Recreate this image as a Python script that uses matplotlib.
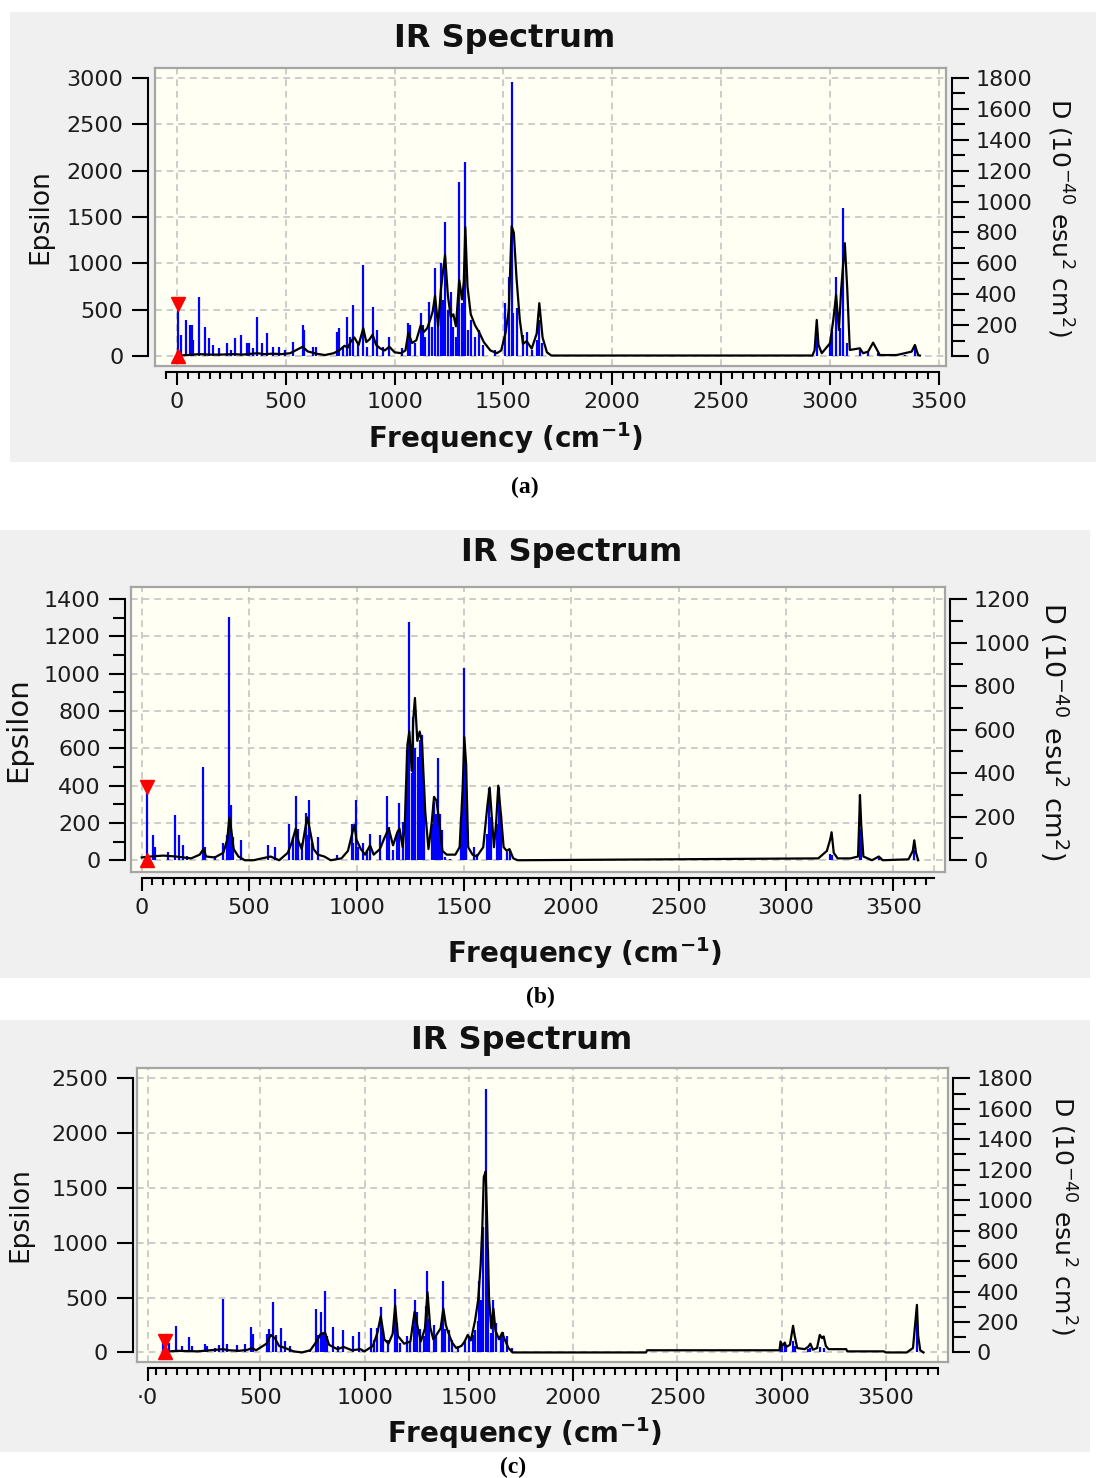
import numpy as np
import matplotlib
matplotlib.use('Agg')
import matplotlib.pyplot as plt
from matplotlib.patches import Rectangle

# Figure size in pixels (dpi 100)
W, H = 1096, 1478

# ---- Panel (a) data: stick spectrum (Epsilon units) + broadened curve ----
a_stick_freq = [6, 17, 40, 60, 69, 75, 102, 129, 149, 167, 193, 231, 247, 268, 294, 320, 329, 348,
                369, 392, 412, 442, 470, 496, 535, 578, 585, 627, 637, 734, 746, 764, 783, 795,
                810, 833, 856, 871, 899, 920, 948, 976, 1033, 1063, 1071, 1094, 1120, 1129, 1140,
                1160, 1170, 1186, 1201, 1213, 1222, 1232, 1244, 1259, 1270, 1282, 1290, 1297, 1308,
                1318, 1325, 1339, 1351, 1370, 1389, 1408, 1461, 1507, 1527, 1538, 1545, 1561,
                1591, 1607, 1630, 1653, 1665, 1676,
                2940, 3001, 3011, 3029, 3045, 3062, 3077, 3138, 3176, 3222, 3347, 3391]
a_stick_eps = [500, 227, 389, 335, 335, 173, 641, 317, 191, 119, 83, 137, 65, 191, 227, 137, 137, 83,
               425, 137, 245, 101, 101, 65, 155, 335, 281, 101, 101, 263, 299, 101, 425, 209,
               551, 155, 983, 101, 533, 281, 101, 209, 83, 353, 335, 137, 461, 335, 209,
               587, 317, 947, 389, 1001, 600, 1450, 497, 695, 317, 209, 450, 1882, 569,
               700, 2098, 281, 389, 209, 281, 119, 65, 569, 857, 2952, 461, 515,
               227, 263, 65, 173, 389, 137,
               208, 137, 281, 857, 300, 1595, 137, 65, 47, 29, 11, 119]
a_curve_freq = [0, 50, 100, 150, 200, 260, 300, 369, 400, 440, 480, 520, 545, 578, 600, 640, 680,
                720, 745, 770, 785, 800, 815, 835, 856, 870, 885, 899, 915, 935, 955, 976, 1000,
                1030, 1050, 1063, 1080, 1100, 1120, 1135, 1150, 1165, 1175, 1186, 1200, 1213,
                1222, 1232, 1245, 1258, 1270, 1282, 1297, 1310, 1318, 1325, 1335, 1350, 1370,
                1390, 1410, 1440, 1470, 1490, 1510, 1525, 1538, 1548, 1560, 1575, 1590, 1607,
                1630, 1653, 1665, 1680, 1700, 1720,
                2920, 2930, 2940, 2948, 2963, 3001, 3016, 3029, 3042, 3052, 3069, 3080, 3092,
                3138, 3153, 3176, 3199, 3230, 3307, 3376, 3391, 3406, 3414]
a_curve_eps = [5, 10, 20, 15, 15, 20, 15, 30, 20, 25, 20, 30, 60, 100, 50, 25, 10,
               30, 60, 110, 90, 160, 200, 120, 300, 150, 180, 230, 120, 80, 60, 100, 40,
               30, 60, 250, 140, 170, 330, 260, 300, 400, 480, 650, 320, 720,
               900, 1090, 650, 420, 450, 320, 820, 610, 800, 1390, 750, 450, 330,
               250, 150, 60, 30, 60, 250, 500, 1400, 1330, 850, 400, 130, 160,
               80, 240, 570, 200, 40, 5,
               5, 60, 389, 120, 30, 137, 389, 660, 280, 710, 1217, 730, 65,
               83, 30, 47, 144, 10, 10, 47, 119, 10, 5]
a_marker = (6, 565)

# ---- Panel (b) data ----
b_stick_freq = [26, 54, 64, 120, 157, 175, 194, 212, 287, 295, 341, 380, 398, 408, 416, 427, 462,
                586, 621, 687, 706, 717, 729, 745, 763, 773, 780, 791, 819, 908, 977, 985, 996,
                1009, 1032, 1047, 1063, 1109, 1140, 1153, 1171, 1187, 1200, 1218, 1231, 1237,
                1246, 1257, 1264, 1272, 1285, 1296, 1304, 1315, 1350, 1361, 1370, 1378, 1389,
                1398, 1412, 1435, 1486, 1494, 1500, 1508, 1512, 1546, 1562, 1606, 1615, 1624,
                1652, 1662, 1671, 1699, 1714,
                3205, 3212, 3344, 3348, 3432, 3597]
b_stick_eps = [358, 134, 72, 45, 245, 134, 80, 21, 501, 72, 21, 90, 134, 1303, 295, 125, 107,
               80, 72, 197, 125, 343, 170, 90, 254, 134, 325, 90, 122, 27, 197, 90, 325,
               72, 90, 54, 143, 134, 343, 179, 54, 143, 307, 206, 394, 591,
               1275, 466, 770, 600, 555, 645, 671, 394, 197, 313, 250, 549, 250,
               161, 18, 9, 233, 385, 1029, 519, 224, 72, 36, 143, 385, 233,
               197, 394, 250, 45, 54,
               35, 30, 170, 120, 20, 54]
b_curve_freq = [0, 40, 100, 160, 230, 270, 287, 300, 340, 380, 398, 408, 416, 428, 450, 480, 520,
                560, 600, 640, 680, 700, 717, 730, 745, 770, 780, 800, 820, 850, 880, 930, 960,
                977, 990, 1000, 1020, 1040, 1063, 1080, 1109, 1130, 1150, 1170, 1190, 1200, 1215,
                1225, 1237, 1246, 1257, 1264, 1272, 1283, 1294, 1305, 1320, 1335, 1350, 1361,
                1372, 1385, 1400, 1420, 1460, 1480, 1494, 1502, 1510, 1520, 1540, 1560, 1590,
                1610, 1620, 1630, 1640, 1650, 1660, 1672, 1685, 1700, 1712, 1730, 1750,
                3150, 3190, 3205, 3212, 3222, 3240, 3300, 3335, 3340, 3344, 3350, 3360, 3400,
                3432, 3450, 3570, 3590, 3597, 3605, 3615]
b_curve_eps = [15, 20, 25, 20, 10, 30, 60, 20, 15, 40, 110, 230, 170, 60, 20, 0, 0,
               10, 20, 0, 40, 100, 170, 100, 60, 230, 180, 60, 30, 20, 0, 10, 50,
               130, 190, 110, 60, 30, 80, 30, 60, 120, 170, 80, 150, 170, 70,
               200, 620, 690, 480, 750, 870, 640, 690, 630, 260, 60, 200, 340,
               320, 210, 50, 30, 30, 70, 380, 660, 520, 70, 30, 20, 70,
               300, 390, 230, 70, 200, 400, 250, 70, 50, 60, 10, 0,
               10, 50, 110, 150, 40, 10, 10, 20, 190, 350, 190, 20, 0,
               20, 0, 5, 50, 107, 40, 0]
b_marker = (26, 394)

# ---- Panel (c) data ----
c_stick_freq = [35, 61, 96, 124, 156, 172, 212, 236, 247, 284, 300, 321, 340, 388, 428, 455, 465,
                532, 540, 560, 576, 599, 620, 643, 739, 768, 779, 790, 800, 811, 819, 848, 875,
                896, 944, 972, 995, 1030, 1046, 1062, 1078, 1091, 1115, 1147, 1155, 1171, 1206,
                1219, 1235, 1243, 1251, 1267, 1286, 1294, 1302, 1311, 1334, 1343, 1370, 1378,
                1388, 1407, 1418, 1450, 1482, 1503, 1519, 1530, 1543, 1551, 1557, 1570, 1581,
                1591, 1605, 1618, 1630, 1653, 1666, 1682, 1706,
                2750, 2995, 3004, 3015, 3023, 3055, 3063, 3127, 3138, 3183, 3202, 3490, 3649]
c_stick_eps = [120, 85, 243, 56, 138, 56, 26, 81, 56, 41, 69, 486, 81, 69, 81, 231, 170,
               170, 213, 456, 161, 219, 100, 56, 26, 395, 161, 365, 176, 565, 146, 231, 56,
               201, 146, 188, 26, 219, 115, 219, 413, 207, 115, 577, 267, 85, 152,
               109, 237, 474, 365, 213, 146, 425, 744, 304, 252, 146, 267, 656,
               216, 201, 115, 56, 100, 146, 158, 201, 286, 656, 480, 1148, 2400,
               938, 176, 474, 267, 146, 191, 146, 41,
               5, 60, 50, 80, 40, 100, 60, 30, 40, 50, 45, 5, 267]
c_curve_freq = [40, 100, 200, 260, 321, 350, 400, 440, 460, 480, 530, 550, 570, 590, 620, 660, 700,
                740, 770, 790, 811, 830, 870, 900, 940, 980, 1000, 1040, 1062, 1078, 1095, 1115,
                1135, 1147, 1160, 1190, 1220, 1240, 1255, 1270, 1290, 1302, 1315, 1330, 1345,
                1365, 1378, 1390, 1400, 1420, 1440, 1465, 1480, 1495, 1510, 1530, 1545, 1557,
                1565, 1572, 1581, 1588, 1597, 1608, 1618, 1628, 1645, 1660, 1672, 1690, 1710,
                2350, 2355, 2990, 2995, 3004, 3015, 3023, 3040, 3055, 3063, 3075, 3110, 3127,
                3138, 3150, 3170, 3183, 3195, 3202, 3212, 3225, 3310, 3315, 3490, 3500, 3600,
                3630, 3649, 3655, 3665, 3680]
c_curve_eps = [5, 15, 10, 20, 30, 20, 15, 25, 40, 20, 80, 160, 130, 60, 40, 10, 0,
               20, 100, 170, 180, 70, 30, 50, 20, 30, 10, 60, 180, 330, 120, 80,
               170, 430, 150, 80, 100, 370, 230, 100, 220, 550, 230, 120, 160,
               220, 400, 250, 190, 90, 40, 60, 100, 160, 110, 290, 480, 800,
               1150, 1600, 1650, 1200, 500, 220, 400, 200, 120, 180, 120, 40, 0,
               0, 20, 20, 100, 60, 90, 50, 70, 243, 150, 40, 30, 50,
               80, 25, 40, 160, 130, 146, 60, 30, 30, 10, 10, 0, 0,
               40, 434, 150, 20, 0]
c_marker = (45, 107)

# ---- layout of each panel (pixel positions) ----
panels = [
    dict(sf=a_stick_freq, se=a_stick_eps, cf=a_curve_freq, ce=a_curve_eps, mk=a_marker,
         bg=(10, 12, 1096, 462), plot=(155, 68, 946, 366), xlim=(-101, 3534), ylim=(-108, 3107),
         eps_max=3000, eps_step=500, eps_minor=None, dfac=0.6, d_max=1800,
         xb=(-50, 3500), xgrid=[0, 500, 1000, 1500, 2000, 2500, 3000, 3500], xlab0='0',
         outs=(7.3, 5.7, 6), title=(505, 38), xlabel=(506, 438), elab=(40, 217), elab_fs=19,
         dlab=(1060, 217), dlab_fs=18, letter=('(a)', 525, 487)),
    dict(sf=b_stick_freq, se=b_stick_eps, cf=b_curve_freq, ce=b_curve_eps, mk=b_marker,
         bg=(0, 530, 1090, 978), plot=(131, 587, 945, 872), xlim=(-50, 3740), ylim=(-63, 1465),
         eps_max=1400, eps_step=200, eps_minor=100, dfac=1200 / 1400, d_max=1200,
         xb=(0, 3690), xgrid=[0, 500, 1000, 1500, 2000, 2500, 3000, 3500, 3690], xlab0='0',
         outs=(6, 5, 6), title=(572, 553), xlabel=(585, 953), elab=(18, 730), elab_fs=21,
         dlab=(1054, 731), dlab_fs=19.5, letter=('(b)', 540, 997)),
    dict(sf=c_stick_freq, se=c_stick_eps, cf=c_curve_freq, ce=c_curve_eps, mk=c_marker,
         bg=(0, 1020, 1090, 1452), plot=(137, 1068, 948, 1362), xlim=(-91, 3798), ylim=(-87, 2594),
         eps_max=2500, eps_step=500, eps_minor=None, dfac=0.72, d_max=1800,
         xb=(-40, 3750), xgrid=[-40, 500, 1000, 1500, 2000, 2500, 3000, 3500, 3750], xlab0='·0',
         outs=(4.5, 5, 6), title=(522, 1040), xlabel=(525, 1433), elab=(20, 1215), elab_fs=19,
         dlab=(1063, 1215), dlab_fs=18, letter=('(c)', 513, 1467)),
]

PX = 0.72  # points per pixel at dpi 100
TICK_FS = 16

fig = plt.figure(figsize=(W / 100, H / 100), dpi=100)
fig.patch.set_facecolor('white')


def rect(l, t, r, b):
    return [l / W, 1 - b / H, (r - l) / W, (b - t) / H]


for p in panels:
    # grey panel background
    l, t, r, b = p['bg']
    fig.add_artist(Rectangle((l / W, 1 - b / H), (r - l) / W, (b - t) / H,
                             transform=fig.transFigure, facecolor='#f0f0f0',
                             edgecolor='none', zorder=0))

    # plot area
    ax = fig.add_axes(rect(*p['plot']))
    ax.set_facecolor('#fffff3')
    ax.set_xlim(*p['xlim'])
    ax.set_ylim(*p['ylim'])
    for s in ax.spines.values():
        s.set_color('#a5a5a5')
        s.set_linewidth(1.6)
    ax.set_xticks([])
    ax.set_yticks([])
    for gx in p['xgrid']:
        ax.axvline(gx, color='#c4c4c4', lw=1.2, ls=(0, (4, 3)), zorder=1)
    for gy in np.arange(0, p['eps_max'] + 1, p['eps_step']):
        ax.axhline(gy, color='#c4c4c4', lw=1.2, ls=(0, (4, 3)), zorder=1)

    ax.vlines(p['sf'], 0, p['se'], color='#0000ff', lw=1.6, zorder=2)
    ax.plot(p['cf'], p['ce'], color='black', lw=1.6, zorder=3)
    mf, mt = p['mk']
    ax.plot([mf], [mt], marker='v', color='red', ms=10, ls='none', zorder=4, clip_on=False)
    ax.plot([mf], [0], marker='^', color='red', ms=10, ls='none', zorder=4, clip_on=False)

    # outer axes (left Epsilon, bottom frequency, right D)
    ov = fig.add_axes(rect(*p['plot']), facecolor='none')
    ov.set_xlim(*p['xlim'])
    ov.set_ylim(*p['ylim'])
    ov.spines['top'].set_visible(False)
    ov.spines['right'].set_visible(False)
    ov.spines['left'].set_position(('outward', p['outs'][0] * PX))
    ov.spines['bottom'].set_position(('outward', p['outs'][2] * PX))
    ov.spines['left'].set_bounds(0, p['eps_max'])
    ov.spines['bottom'].set_bounds(*p['xb'])
    for k in ('left', 'bottom'):
        ov.spines[k].set_linewidth(1.5)

    ov.set_yticks(np.arange(0, p['eps_max'] + 1, p['eps_step']))
    if p['eps_minor']:
        ov.set_yticks(np.arange(0, p['eps_max'] + 1, p['eps_minor']), minor=True)
    xt = [p['xgrid'][0]] + [500, 1000, 1500, 2000, 2500, 3000, 3500]
    if p['xgrid'][0] != 0 and p['xlab0'] == '0':
        xt[0] = 0
    ov.set_xticks(xt)
    ov.set_xticklabels([p['xlab0']] + [str(v) for v in xt[1:]])
    ov.set_xticks(np.arange(p['xb'][0] if p['xb'][0] % 50 == 0 else 0, p['xb'][1] + 1, 50),
                  minor=True)
    ov.tick_params(axis='y', which='major', direction='out', length=11.5, width=1.5,
                   pad=6, labelsize=TICK_FS, labelcolor='#1c1c1c')
    ov.tick_params(axis='y', which='minor', direction='out', length=8.5, width=1.5)
    ov.tick_params(axis='x', which='major', direction='out', length=9, width=1.5,
                   pad=5.5, labelsize=TICK_FS, labelcolor='#1c1c1c')
    ov.tick_params(axis='x', which='minor', direction='out', length=5, width=1.5)

    rx = ov.twinx()
    rx.set_ylim(p['ylim'][0] * p['dfac'], p['ylim'][1] * p['dfac'])
    for k in ('left', 'top', 'bottom'):
        rx.spines[k].set_visible(False)
    rx.spines['right'].set_position(('outward', p['outs'][1] * PX))
    rx.spines['right'].set_bounds(0, p['d_max'])
    rx.spines['right'].set_linewidth(1.5)
    rx.set_yticks(np.arange(0, p['d_max'] + 1, 200))
    rx.set_yticks(np.arange(0, p['d_max'] + 1, 100), minor=True)
    rx.tick_params(axis='y', which='major', direction='out', length=12, width=1.5,
                   pad=5, labelsize=TICK_FS, labelcolor='#1c1c1c')
    rx.tick_params(axis='y', which='minor', direction='out', length=9.5, width=1.5)

    # texts
    tx, ty = p['title']
    fig.text(tx / W, 1 - ty / H, 'IR Spectrum', ha='center', va='center',
             fontsize=23, fontweight='bold', color='#111111')
    lx, ly = p['xlabel']
    fig.text(lx / W, 1 - ly / H, r'Frequency (cm$^{\mathbf{-1}}$)', ha='center', va='center',
             fontsize=20, fontweight='bold', color='#111111')
    ex, ey = p['elab']
    fig.text(ex / W, 1 - ey / H, 'Epsilon', ha='center', va='center', rotation=90,
             fontsize=p['elab_fs'], color='#111111')
    dx, dy = p['dlab']
    fig.text(dx / W, 1 - dy / H, r'D (10$^{-40}$ esu$^{2}$ cm$^{2}$)', ha='center', va='center',
             rotation=-90, fontsize=p['dlab_fs'], color='#111111')
    lt, ltx, lty = p['letter']
    fig.text(ltx / W, 1 - lty / H, lt, ha='center', va='center', fontsize=17,
             fontweight='bold', family='Liberation Serif', color='black')

fig.savefig('out.png', dpi=100, facecolor='white')
